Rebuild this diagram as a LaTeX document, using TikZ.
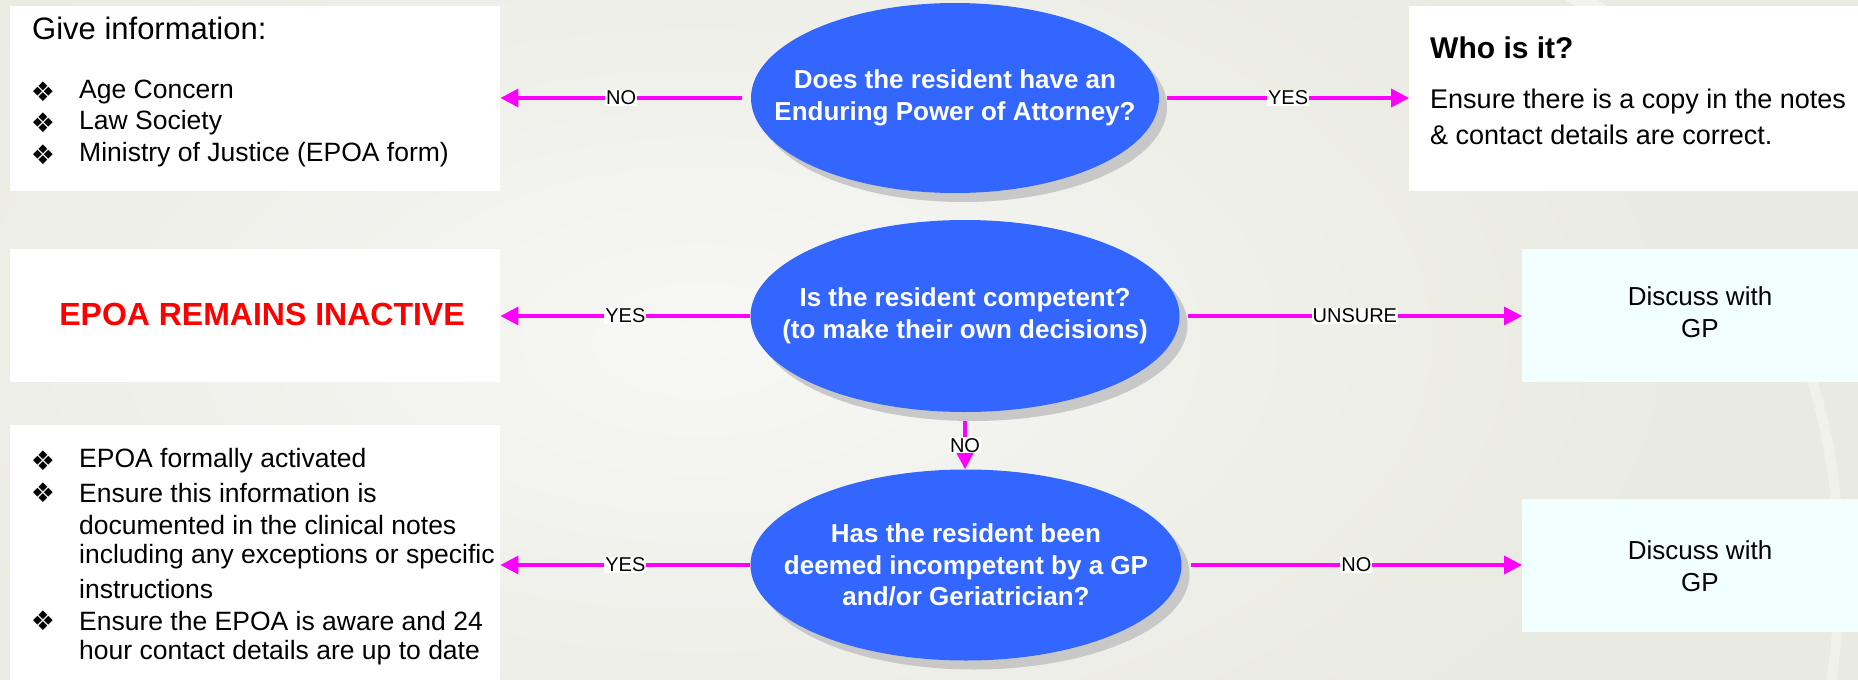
\documentclass[tikz,border=0pt]{standalone}
\usepackage{fontspec}
\setmainfont{Liberation Sans}
\newfontfamily\dejavu{DejaVu Sans}
\usetikzlibrary{arrows.meta,shapes.geometric,shadows}

\definecolor{ellblue}{HTML}{3366FF}
\definecolor{pinkarr}{HTML}{FF00FF}
\definecolor{bgbase}{HTML}{E9EAE1}
\definecolor{bglight}{HTML}{F7F7F5}
\definecolor{paleblue}{HTML}{F2FFFF}
\definecolor{shadowgray}{HTML}{C8C8C8}
\definecolor{alertred}{HTML}{FF0000}

\newcommand{\fsz}[2]{\fontsize{#1}{#2}\selectfont}

\begin{document}
\begin{tikzpicture}[x=1pt,y=-1pt,
  box/.style={fill=white, draw=none, inner sep=0pt, anchor=north west},
  gpbox/.style={fill=paleblue, draw=none, inner sep=0pt, anchor=north west},
  question/.style={ellipse, fill=ellblue, draw=none, inner sep=0pt,
    drop shadow={shadow xshift=8pt, shadow yshift=-9pt, fill=shadowgray, opacity=1}},
  qtext/.style={text=white, font=\fsz{26}{31.5}\bfseries, align=center, inner sep=0pt},
  arr/.style={draw=pinkarr, line width=3.5pt, -{Triangle[length=18pt,width=18pt]}},
  lbl/.style={fill=white, text=black, inner sep=1pt, font=\fsz{20}{22}},
  txt/.style={anchor=west, inner sep=0pt, text=black, font=\fsz{26.5}{30}},
  bul/.style={inner sep=0pt, text=black, font=\dejavu\fsz{27}{30}},
]
\useasboundingbox (0,0) rectangle (1858,680);
% background
\fill[bgbase] (0,0) rectangle (1858,680);
\shade[inner color=bglight, outer color=bgbase] (-300,-200) rectangle (1700,880);
\draw[white, opacity=0.45, line width=14pt] (1560,-10) .. controls (1700,60) and (1820,120) .. (1870,170);
\draw[white, opacity=0.35, line width=10pt] (1780,300) .. controls (1840,420) and (1850,560) .. (1830,690);

% boxes
\node[box, minimum width=490pt, minimum height=185pt] (b1) at (10,6) {};
\node[box, minimum width=449pt, minimum height=185pt] (b2) at (1409,6) {};
\node[box, minimum width=490pt, minimum height=133pt] (b3) at (10,249) {};
\node[gpbox, minimum width=336pt, minimum height=133pt] (b4) at (1522,249) {};
\node[box, minimum width=490pt, minimum height=255pt] (b5) at (10,425) {};
\node[gpbox, minimum width=336pt, minimum height=133pt] (b6) at (1522,499) {};

% questions
\node[question, minimum width=408pt, minimum height=190pt] (q1) at (955,98) {};
\node[qtext] (q1t) at (q1.center) {Does the resident have an\\Enduring Power of Attorney?};
\node[question, minimum width=429pt, minimum height=192pt] (q2) at (965,316) {};
\node[qtext] (q2t) at (q2.center) {Is the resident competent?\\(to make their own decisions)};
\node[question, minimum width=431pt, minimum height=191pt] (q3) at (966,565) {};
\node[qtext] (q3t) at (q3.center) {Has the resident been\\deemed incompetent by a GP\\and/or Geriatrician?};

% top-left text
\node[txt, font=\fsz{31}{36}] (t0) at (32,28) {Give information:};
\node[bul] (u1) at (43,92) {❖};
\node[txt] (t1) at (79,92) {Age Concern};
\node[bul] (u2) at (43,123) {❖};
\node[txt] (t2) at (79,123) {Law Society};
\node[bul] (u3) at (43,155) {❖};
\node[txt] (t3) at (79,155) {Ministry of Justice (EPOA form)};

% top-right text
\node[txt, font=\fsz{30}{34}\bfseries] (w0) at (1430,48) {Who is it?};
\node[txt, font=\fsz{27}{31}] (w1) at (1430,102) {Ensure there is a copy in the notes};
\node[txt, font=\fsz{27}{31}] (w2) at (1430,135) {\& contact details are correct.};

% middle-left
\node[inner sep=0pt, text=alertred, font=\fsz{32}{36}\bfseries] (r0) at (262,314) {EPOA REMAINS INACTIVE};

% GP boxes text
\node[inner sep=0pt, align=center, font=\fsz{26}{32}] (g1) at (1700,312) {Discuss with\\GP};
\node[inner sep=0pt, align=center, font=\fsz{26}{32}] (g2) at (1700,566) {Discuss with\\GP};

% bottom-left text
\node[bul] (v1) at (43,461) {❖};
\node[txt] (s1) at (79,461) {EPOA formally activated};
\node[bul] (v2) at (43,493) {❖};
\node[txt] (s2) at (79,493) {Ensure this information is};
\node[txt] (s3) at (79,525) {documented in the clinical notes};
\node[txt] (s4) at (79,557) {including any exceptions or specific};
\node[txt] (s5) at (79,589) {instructions};
\node[bul] (v3) at (43,621) {❖};
\node[txt] (s6) at (79,621) {Ensure the EPOA is aware and 24};
\node[txt] (s7) at (79,653) {hour contact details are up to date};

% connectors
\draw[arr] ([xshift=-9pt]q1.west) -- (b1.east |- q1.west) node[lbl, midway] {NO};
\draw[arr] ([xshift=8pt]q1.east) -- (b2.west |- q1.east) node[lbl, midway] {YES};
\draw[arr] (q2.west) -- (b3.east |- q2.west) node[lbl, midway] {YES};
\draw[arr] ([xshift=8pt]q2.east) -- (b4.west |- q2.east) node[lbl, midway] {UNSURE};
\draw[arr] ([yshift=-9pt]q2.south) -- (q2.south |- q3.north) node[lbl, midway] {NO};
\draw[arr] (q3.west) -- (b5.east |- q3.west) node[lbl, midway] {YES};
\draw[arr] ([xshift=9pt]q3.east) -- (b6.west |- q3.east) node[lbl, midway] {NO};
\end{tikzpicture}
\end{document}
